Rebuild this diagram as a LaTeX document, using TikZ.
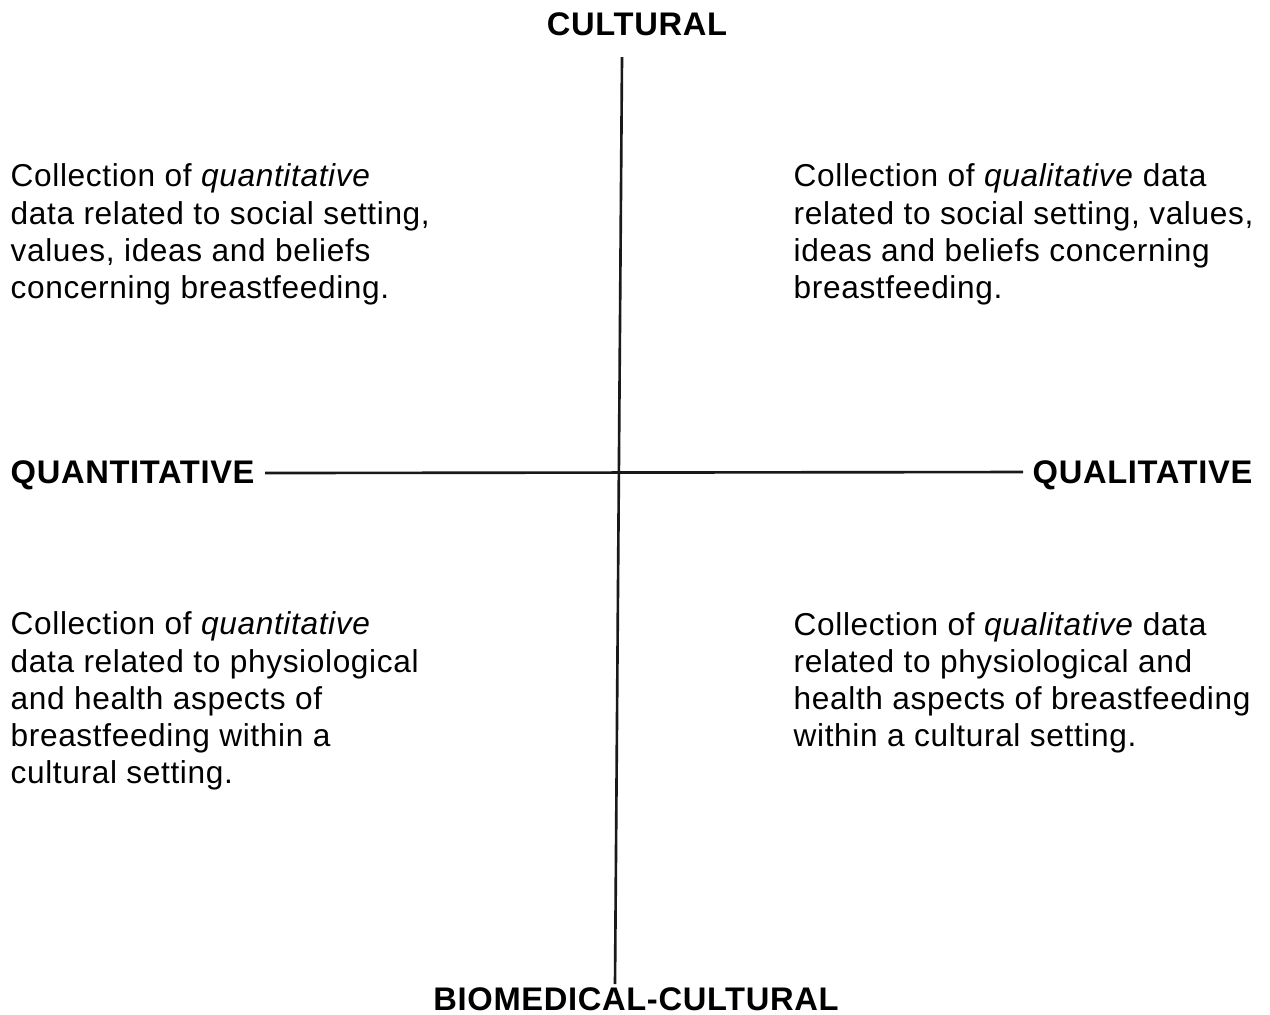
\documentclass[tikz,border=0pt]{standalone}
\usepackage{fontspec}
\setmainfont{Liberation Sans}[LetterSpace=2]
\usetikzlibrary{positioning}

\tikzset{
  axislabel/.style={font=\fontsize{9.3}{10.5}\selectfont\bfseries, inner sep=0pt, anchor=base},
  cell/.style={font=\fontsize{9}{10.53}\selectfont, align=left, inner sep=0pt, anchor=base west},
  axis/.style={line width=0.75pt, black!90}
}

\begin{document}
\begin{tikzpicture}[x=0.1mm,y=-0.1mm]
\useasboundingbox (0,0) rectangle (1270,1014);

% Axis labels
\node[axislabel] (cultural) at (637,35) {CULTURAL};
\node[axislabel] (biomed) at (636,1010) {BIOMEDICAL-CULTURAL};
\node[axislabel, anchor=base west] (quant) at (10,483) {QUANTITATIVE};
\node[axislabel, anchor=base east] (qual) at (1253,483) {QUALITATIVE};

% Axes
\coordinate (top) at (622,57);
\coordinate (bottom) at (615,984);
\coordinate (left) at (265,473);
\coordinate (right) at (1023,472);
\draw[axis] (top) -- (bottom);
\draw[axis] (left) -- (right);

% Quadrants (anchored on the last line's baseline)
\node[cell] (quantcult) at (10,298) {Collection of \textit{quantitative}\\
  data related to social setting,\\ values, ideas and beliefs\\
  concerning breastfeeding.};
\node[cell] (qualcult) at (793,298) {Collection of \textit{qualitative} data\\
  related to social setting, values,\\ ideas and beliefs concerning\\
  breastfeeding.};
\node[cell] (quantbio) at (10,783) {Collection of \textit{quantitative}\\
  data related to physiological\\ and health aspects of\\
  breastfeeding within a\\ cultural setting.};
\node[cell] (qualbio) at (793,746) {Collection of \textit{qualitative} data\\
  related to physiological and\\ health aspects of breastfeeding\\
  within a cultural setting.};

\end{tikzpicture}
\end{document}
